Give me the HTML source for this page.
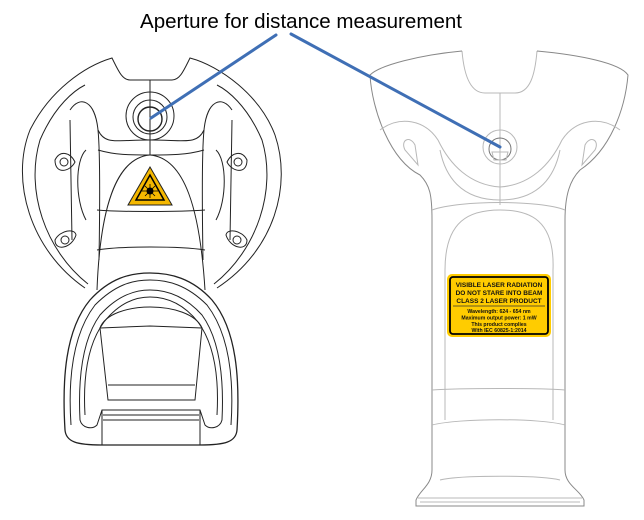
<!DOCTYPE html>
<html><head><style>
html,body{margin:0;padding:0;background:#fff;}
svg{display:block;}
text{font-family:"Liberation Sans",sans-serif;}
</style></head><body>
<svg width="644" height="520" viewBox="0 0 644 520">
<rect width="644" height="520" fill="#fff"/>
<text x="140" y="28" font-size="20.5" fill="#000" textLength="322" lengthAdjust="spacingAndGlyphs">Aperture for distance measurement</text>

<!-- LEFT DEVICE -->
<g fill="none" stroke="#222" stroke-width="1">
  <path d="M85 288 C30 250 10 180 30 130 C50 90 85 66 112 58 C118 70 122 80 130 80 L172 80 C180 80 184 70 190 58 C220 66 260 95 275 135 C292 185 275 250 217 288"/>
  <path d="M88 284 C45 250 25 190 40 140 C55 105 75 90 85 85"/>
  <path d="M214 284 C257 250 277 190 262 140 C247 105 227 90 217 85"/>
  <path d="M150 80 L150 155"/>
  <circle cx="150" cy="116" r="24"/>
  <circle cx="150" cy="117" r="17"/>
  <circle cx="150" cy="119" r="12" stroke-width="1.4"/>
  <path d="M70 110 C80 95 95 100 98 130 C100 150 100 200 99 260"/>
  <path d="M232 110 C222 95 207 100 204 130 C202 150 202 200 203 260"/>
  <path d="M98 130 C105 145 115 140 150 140 C185 140 197 145 204 130"/>
  <path d="M98 150 C115 155 130 155 150 155 C170 155 187 155 204 150"/>
  <path d="M150 155 C115 158 100 210 97 290"/>
  <path d="M150 155 C185 158 200 210 205 290"/>
  <path d="M97 210 C120 212 180 212 205 210"/>
  <path d="M97 250 C120 246 180 246 205 250"/>
  <path d="M70 120 L72 240 M232 120 L230 240"/>
  <path d="M86 150 C75 160 75 200 86 220 M216 150 C227 160 227 200 216 220"/>
  <path d="M55 160 C60 150 70 152 75 162 C70 172 55 175 55 160Z"/>
  <circle cx="64" cy="162" r="4"/>
  <path d="M55 240 C60 230 75 228 76 235 C72 248 55 252 55 240Z"/>
  <circle cx="65" cy="240" r="4"/>
  <path d="M247 160 C242 150 232 152 227 162 C232 172 247 175 247 160Z"/>
  <circle cx="238" cy="162" r="4"/>
  <path d="M247 240 C242 230 227 228 226 235 C230 248 247 252 247 240Z"/>
  <circle cx="237" cy="240" r="4"/>
  <!-- nose -->
  <path d="M65 430 C62 380 65 330 90 300 C110 278 130 273 150 273 C170 273 192 278 212 300 C237 330 240 380 237 430 C236 442 225 445 200 445 L102 445 C77 445 66 442 65 430Z" stroke-width="1.3"/>
  <path d="M71 425 C68 380 72 335 95 305 C115 285 132 280 150 280 C168 280 187 285 207 305 C230 335 234 380 231 425"/>
  <path d="M80 420 C78 380 82 340 100 315 C118 295 135 290 150 290 C165 290 184 295 202 315 C220 340 224 380 222 420 C220 428 210 430 205 425 L200 410 L102 410 L97 425 C92 430 82 428 80 420Z"/>
  <path d="M85 415 C83 380 87 345 104 322 C120 302 136 297 150 297 C164 297 182 302 198 322 C215 345 219 380 217 415"/>
  <path d="M100 328 C110 300 190 300 202 328"/>
  <path d="M100 328 L150 326 L202 328 L195 400 L108 400Z"/>
  <path d="M108 385 L195 385 M103 415 L199 415 M103 420 L199 420 M102 445 L102 410 M200 445 L200 410"/>
</g>
<path d="M150 167 L128 205 L172 205Z" fill="#f5b800" stroke="#222" stroke-width="1"/>
<path d="M150 175 L136 200 L164 200Z" fill="#f5b800" stroke="#000" stroke-width="1.5"/>
<circle cx="150" cy="191" r="3.5" fill="#000"/>
<g stroke="#000" stroke-width="0.8"><path d="M142 191 L158 191 M150 184 L150 198 M145 186 L155 196 M155 186 L145 196"/></g>

<!-- RIGHT DEVICE -->
<g fill="none" stroke="#b8b8b8" stroke-width="1">
  <path d="M462 51 C464 75 470 93 485 93 L515 93 C530 93 535 75 537 51"/>
  <path d="M462 51 C420 55 380 65 370 75 C372 110 390 160 420 175 C430 185 432 195 432 220 L432 470 C432 485 420 490 416 500 L416 506 L584 506 L584 500 C580 490 565 485 565 470 L565 220 C565 195 570 180 580 170 C610 150 625 110 628 75 C620 63 580 55 537 51" stroke="#888"/>
  <path d="M500 93 L500 205"/>
  <circle cx="500" cy="147" r="17"/>
  <circle cx="500" cy="149" r="11" stroke="#777"/>
  <path d="M492 152 L508 152 L506 160 L494 160Z"/>
  <path d="M380 130 C400 115 425 120 438 140 C450 165 470 185 500 187 C530 185 550 165 562 140 C575 120 600 115 620 130"/>
  <path d="M440 150 C445 175 460 200 500 200 C540 200 555 175 560 150"/>
  <path d="M432 210 C460 200 540 200 565 210"/>
  <path d="M445 270 C445 220 470 210 500 210 C530 210 555 220 553 270 L553 420"/>
  <path d="M445 270 L445 420"/>
  <path d="M432 390 C460 388 540 388 565 390"/>
  <path d="M432 425 C460 418 540 418 565 425"/>
  <path d="M440 480 C460 475 540 475 560 480"/>
  <path d="M420 502 L580 502 M418 498 L582 498"/>
  <path d="M405 150 C400 140 410 135 415 145 L418 165 Z"/>
  <path d="M595 150 C600 140 590 135 585 145 L582 165 Z"/>
</g>
<rect x="447" y="274" width="104" height="63" rx="5" fill="#ffcc00"/>
<rect x="450" y="277" width="98" height="57" rx="3" fill="none" stroke="#000" stroke-width="1.8"/>
<g font-size="6.5" font-weight="bold" fill="#111" text-anchor="middle">
<text x="499" y="287">VISIBLE LASER RADIATION</text>
<text x="499" y="295">DO NOT STARE INTO BEAM</text>
<text x="499" y="303">CLASS 2 LASER PRODUCT</text>
</g>
<line x1="453" y1="306" x2="545" y2="306" stroke="#333" stroke-width="0.7"/>
<g font-size="5.2" font-weight="bold" fill="#111" text-anchor="middle">
<text x="499" y="313">Wavelength: 624 - 654 nm</text>
<text x="499" y="319.5">Maximum output power: 1 mW</text>
<text x="499" y="326">This product complies</text>
<text x="499" y="332">With IEC 60825-1:2014</text>
</g>

<!-- leader lines -->
<g stroke="#3f6fb5" stroke-width="3" stroke-linecap="round">
  <line x1="276" y1="35" x2="151" y2="118"/>
  <line x1="291" y1="34" x2="500" y2="147"/>
</g>
</svg>
</body></html>
